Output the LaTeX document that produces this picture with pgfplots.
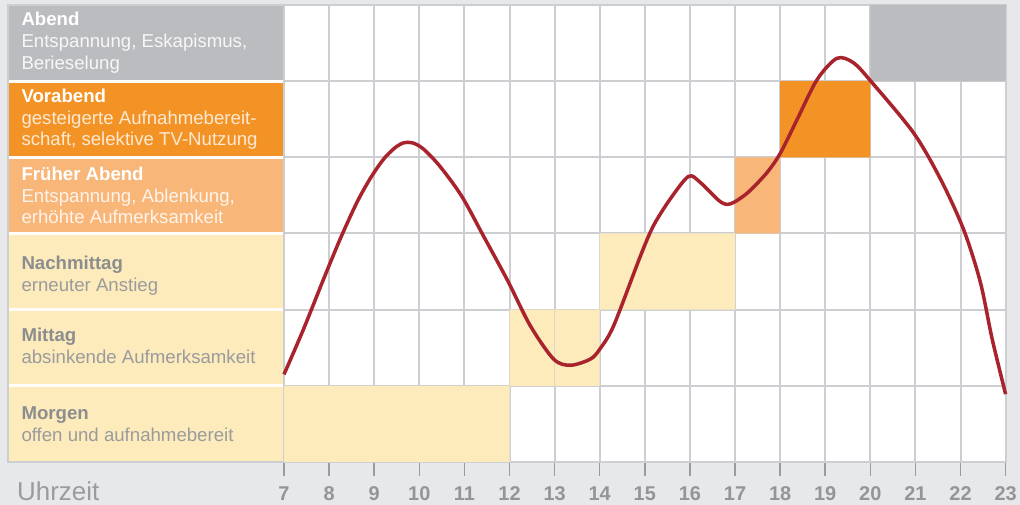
\documentclass[border=0pt]{standalone}
\usepackage{pgfplots}
\pgfplotsset{compat=1.18}
\usepackage{fontspec}
\setmainfont{Liberation Sans}
\definecolor{bg}{HTML}{E7E8EA}
\definecolor{gridc}{HTML}{CDCED1}
\definecolor{abend}{HTML}{BBBCBF}
\definecolor{vorabend}{HTML}{F39325}
\definecolor{frueh}{HTML}{F8B679}
\definecolor{pale}{HTML}{FDEBBB}
\definecolor{curve}{HTML}{A8232C}
\definecolor{lbl}{HTML}{9A9B9D}
\definecolor{ticklbl}{HTML}{949597}
\definecolor{darktxt}{HTML}{8C8D8F}
\begin{document}
\begin{tikzpicture}[x=1bp,y=1bp]
\useasboundingbox (0,0) rectangle (1020,505);
\fill[bg] (0,0) rectangle (1020,505);
\begin{axis}[
  at={(284bp,43bp)}, anchor=south west,
  scale only axis, width=721.6bp, height=457bp,
  xmin=7, xmax=23, ymin=0, ymax=6,
  clip=false,
  axis background/.style={fill=white},
  xtick={7,...,23},
  ytick={1,2,3,4,5},
  yticklabels={},
  ytick style={draw=none},
  xtick pos=left,
  ymajorgrids, xmajorgrids,
  grid style={gridc, line width=2bp},
  tick align=outside,
  major tick length=14bp,
  xtick style={lbl, line width=1.5bp},
  axis line style={draw=gridc, line width=2bp},
  x tick label style={font=\bfseries\fontsize{20}{20}\selectfont, text=ticklbl, anchor=base, yshift=-25bp},
  /pgf/number format/assume math mode=true,
]
% left panel
\fill[abend] (axis cs:0.88,5) rectangle (axis cs:7,6);
\fill[vorabend] (axis cs:0.88,4) rectangle (axis cs:7,5);
\fill[frueh] (axis cs:0.88,3) rectangle (axis cs:7,4);
\fill[pale] (axis cs:0.88,0) rectangle (axis cs:7,3);
\draw[white!92!pale, line width=3bp] (axis cs:0.88,1) -- (axis cs:7,1);
\draw[white!92!pale, line width=3bp] (axis cs:0.88,2) -- (axis cs:7,2);
\draw[white!92!pale, line width=3bp] (axis cs:0.88,3) -- (axis cs:7,3);
\draw[white!92!pale, line width=3bp] (axis cs:0.88,4) -- (axis cs:7,4);
\draw[white!92!pale, line width=3bp] (axis cs:0.88,5) -- (axis cs:7,5);
\draw[gridc, line width=1.5bp] (axis cs:0.88,0) rectangle (axis cs:7,6);
% coloured cells
\addplot[draw=none, fill=abend] coordinates {(20,5) (23,5) (23,6) (20,6) (20,5)};
\addplot[draw=none, fill=vorabend] coordinates {(18,4) (20,4) (20,5) (18,5) (18,4)};
\addplot[draw=none, fill=frueh] coordinates {(17,3) (18,3) (18,4) (17,4) (17,3)};
\addplot[draw=none, fill=pale] coordinates {(14,2) (17,2) (17,3) (14,3) (14,2)};
\addplot[draw=none, fill=pale] coordinates {(12,1) (14,1) (14,2) (12,2) (12,1)};
\addplot[draw=none, fill=pale] coordinates {(7,0) (12,0) (12,1) (7,1) (7,0)};
\addplot[gridc!70!pale, line width=1.5bp] coordinates {(13,1) (13,2)};
% labels
\node[anchor=west, xshift=10bp, align=left, text=white, font=\fontsize{18.7}{22}\selectfont] at (axis cs:0.88,5.5)
  {\textbf{Abend}\\{\color{white!88!abend}Entspannung, Eskapismus,}\\{\color{white!88!abend}Berieselung}};
\node[anchor=west, xshift=10bp, align=left, text=white, font=\fontsize{18.7}{22}\selectfont] at (axis cs:0.88,4.5)
  {\textbf{Vorabend}\\{\color{white!80!vorabend}gesteigerte Aufnahmebereit-}\\{\color{white!80!vorabend}schaft, selektive TV-Nutzung}};
\node[anchor=west, xshift=10bp, align=left, text=white, font=\fontsize{18.7}{22}\selectfont] at (axis cs:0.88,3.5)
  {\textbf{Früher Abend}\\{\color{white!85!frueh}Entspannung, Ablenkung,}\\{\color{white!85!frueh}erhöhte Aufmerksamkeit}};
\node[anchor=west, xshift=10bp, align=left, text=darktxt, font=\fontsize{18.7}{22}\selectfont] at (axis cs:0.88,2.45)
  {\textbf{Nachmittag}\\{\color{lbl}erneuter Anstieg}};
\node[anchor=west, xshift=10bp, align=left, text=darktxt, font=\fontsize{18.7}{22}\selectfont] at (axis cs:0.88,1.53)
  {\textbf{Mittag}\\{\color{lbl}absinkende Aufmerksamkeit}};
\node[anchor=west, xshift=10bp, align=left, text=darktxt, font=\fontsize{18.7}{22}\selectfont] at (axis cs:0.88,0.5)
  {\textbf{Morgen}\\{\color{lbl}offen und aufnahmebereit}};
% curve
\addplot[curve, line width=3.5bp, smooth] coordinates {
(7.0,1.15) (7.43,1.74) (7.87,2.39) (8.24,2.92) (8.61,3.40) (8.91,3.72) (9.20,3.97)
(9.45,4.12) (9.65,4.19) (9.85,4.19) (10.09,4.11) (10.46,3.88) (10.94,3.49) (11.42,2.97)
(11.96,2.38) (12.46,1.79) (12.98,1.35) (13.35,1.27) (13.79,1.35) (14.0,1.48) (14.31,1.79)
(14.9,2.70) (15.19,3.10) (15.56,3.45) (15.97,3.75) (16.23,3.67) (16.67,3.42) (16.90,3.39)
(17.27,3.53) (17.71,3.80) (18.01,4.06) (18.38,4.50) (18.82,5.02) (19.26,5.30)
(19.63,5.24) (20.04,4.98) (20.96,4.32) (21.56,3.71) (22.07,3.05) (22.44,2.36)
(22.7,1.62) (23.0,0.89)};
\end{axis}
\node[anchor=base west, inner sep=0, text=lbl, font=\fontsize{26}{26}\selectfont] at (17,4) {Uhrzeit};
\end{tikzpicture}
\end{document}
